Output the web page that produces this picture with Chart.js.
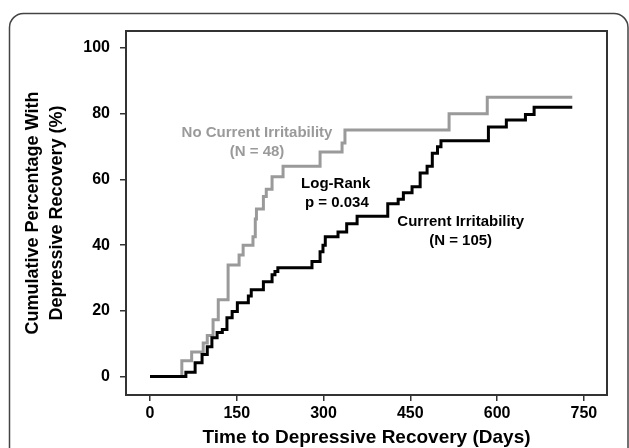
<!DOCTYPE html>
<html>
<head>
<meta charset="utf-8">
<script src="https://cdn.jsdelivr.net/npm/chart.js@4.4.1/dist/chart.umd.min.js"></script>
<style>
  html, body { margin: 0; padding: 0; background: #fff; }
  #wrap { width: 629px; height: 448px; }
</style>
</head>
<body>
<div id="wrap"><canvas id="c" width="629" height="448"></canvas></div>
<script>
// ---- Data ----
const xTicks = [0, 150, 300, 450, 600, 750];
const yTicks = [0, 20, 40, 60, 80, 100];

// No Current Irritability (N = 48)
const noIrrDays = [0, 55, 72, 92, 99, 109, 118, 135, 154, 161, 178, 182, 184, 196, 201, 211, 230, 294, 332, 337, 517, 583, 730];
const noIrrPct  = [0, 4.8, 7.5, 10.2, 12.5, 17.3, 23.4, 34.0, 37.0, 40.0, 42.6, 48.0, 51.0, 54.8, 57.0, 60.8, 64.0, 68.4, 71.1, 75.1, 80.0, 85.0, 85.0];

// Current Irritability (N = 105)
const irrDays = [0, 62, 78, 90, 99, 107, 116, 125, 133, 142, 151, 170, 175, 196, 211, 216, 221, 280, 294, 299, 303, 325, 340, 358, 411, 429, 438, 453, 467, 479, 488, 497, 503, 585, 616, 649, 664, 730];
const irrPct  = [0, 1.3, 4.2, 6.7, 9.1, 11.8, 13.4, 14.3, 17.9, 19.8, 22.5, 24.5, 26.4, 28.9, 31.0, 32.0, 33.1, 35.0, 38.0, 40.0, 42.6, 44.0, 46.5, 48.8, 52.6, 54.0, 56.0, 57.8, 62.0, 64.0, 68.0, 70.0, 71.8, 76.0, 78.1, 79.8, 82.0, 82.0];

// Annotation texts, anchored in data units (days, %)
const noteTexts = ['No Current Irritability', '(N = 48)', 'Log-Rank', 'p = 0.034', 'Current Irritability', '(N = 105)'];
const noteDays  = [185, 185, 321, 323, 537, 537];
const notePcts  = [74.1, 68.4, 58.6, 52.8, 47.1, 41.3];
const noteGray  = [true, true, false, false, false, false];

const FONT = '"Liberation Sans", Arial, Helvetica, sans-serif';
const GRAY = '#9a9a9a';

const toPts = (xs, ys) => xs.map((x, i) => ({ x: x, y: ys[i] }));

const framePlugin = {
  id: 'frame',
  beforeDraw(chart) {
    const ctx = chart.ctx;
    ctx.save();
    ctx.strokeStyle = '#444';
    ctx.lineWidth = 1.5;
    ctx.beginPath();
    ctx.roundRect(9.5, 13.5, 618.5, chart.height + 30, 14);
    ctx.stroke();
    ctx.restore();
  },
  afterDraw(chart) {
    const a = chart.chartArea;
    const ctx = chart.ctx;
    ctx.save();
    ctx.strokeStyle = '#333';
    ctx.lineWidth = 2;
    ctx.strokeRect(a.left, a.top, a.right - a.left, a.bottom - a.top);
    ctx.restore();
  }
};

const notesPlugin = {
  id: 'notes',
  afterDatasetsDraw(chart) {
    const ctx = chart.ctx;
    const xs = chart.scales.x, ys = chart.scales.y;
    ctx.save();
    ctx.font = 'bold 15px ' + FONT;
    ctx.textAlign = 'center';
    ctx.textBaseline = 'middle';
    noteTexts.forEach((t, i) => {
      ctx.fillStyle = noteGray[i] ? GRAY : '#000';
      ctx.fillText(t, xs.getPixelForValue(noteDays[i]), ys.getPixelForValue(notePcts[i]));
    });
    ctx.restore();
  }
};

new Chart(document.getElementById('c'), {
  type: 'line',
  data: {
    datasets: [
      {
        label: 'Current Irritability (N = 105)',
        data: toPts(irrDays, irrPct),
        borderColor: '#000',
        borderWidth: 3,
        stepped: 'before',
        pointRadius: 0,
        fill: false,
        borderJoinStyle: 'miter',
        borderCapStyle: 'butt'
      },
      {
        label: 'No Current Irritability (N = 48)',
        data: toPts(noIrrDays, noIrrPct),
        borderColor: GRAY,
        borderWidth: 3,
        stepped: 'before',
        pointRadius: 0,
        fill: false,
        borderJoinStyle: 'miter',
        borderCapStyle: 'butt'
      }
    ]
  },
  options: {
    responsive: false,
    animation: false,
    devicePixelRatio: 1,
    layout: { padding: { top: 31, right: 22, bottom: 0, left: 0 } },
    plugins: { legend: { display: false }, tooltip: { enabled: false } },
    scales: {
      x: {
        type: 'linear',
        min: -41.5,
        max: 790,
        afterBuildTicks(scale) { scale.ticks = xTicks.map(v => ({ value: v })); },
        afterFit(scale) { scale.height = 53; },
        border: { display: false },
        grid: { drawOnChartArea: false, drawTicks: true, tickLength: 6, color: '#333', lineWidth: 1.5 },
        ticks: { color: '#000', padding: 3, maxRotation: 0, font: { family: FONT, size: 16, weight: 'bold' } },
        title: {
          display: true,
          text: 'Time to Depressive Recovery (Days)',
          color: '#000',
          padding: 0,
          font: { family: FONT, size: 19, weight: 'bold', lineHeight: '20px' }
        }
      },
      y: {
        type: 'linear',
        min: -5.6,
        max: 105.2,
        afterBuildTicks(scale) { scale.ticks = yTicks.map(v => ({ value: v })); },
        afterFit(scale) { scale.width = 126; },
        border: { display: false },
        grid: { drawOnChartArea: false, drawTicks: true, tickLength: 6, color: '#333', lineWidth: 1.5 },
        ticks: { color: '#000', padding: 10, font: { family: FONT, size: 16, weight: 'bold' } },
        title: {
          display: true,
          text: ['Cumulative Percentage With', 'Depressive Recovery (%)'],
          color: '#000',
          padding: { top: 21, bottom: 0 },
          font: { family: FONT, size: 18, weight: 'bold', lineHeight: '24px' }
        }
      }
    }
  },
  plugins: [framePlugin, notesPlugin]
});
</script>
</body>
</html>
